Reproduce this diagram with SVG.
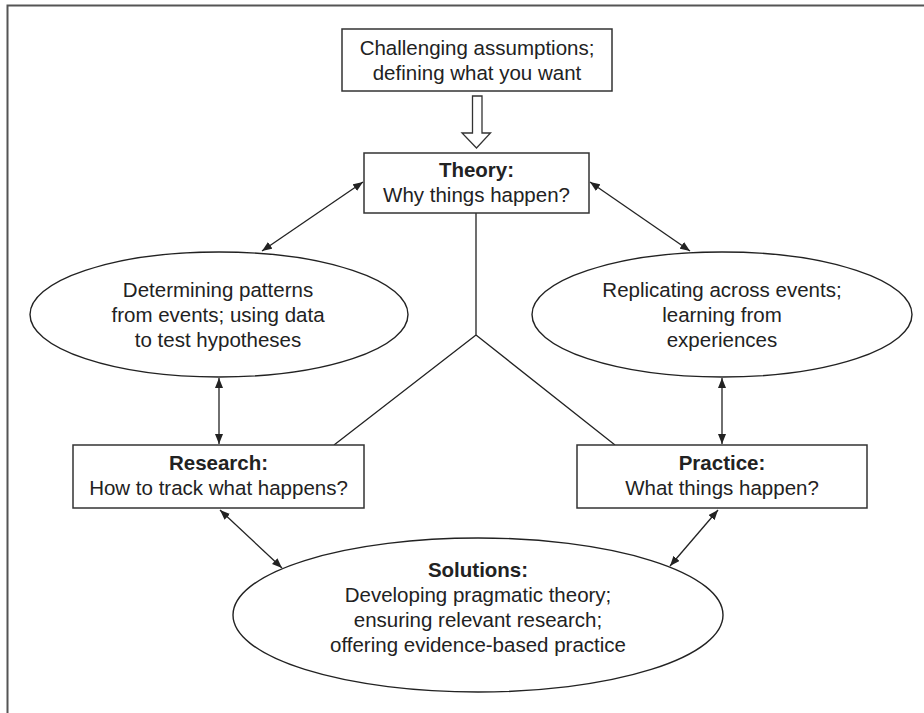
<svg xmlns="http://www.w3.org/2000/svg" width="924" height="713" viewBox="0 0 924 713">
  <style>
    .box { fill: #fff; stroke: #333; stroke-width: 1.5; }
    .ell { fill: #fff; stroke: #222; stroke-width: 1.4; }
    .txt { font-family: "Liberation Sans", Arial, sans-serif; font-size: 20.5px; fill: #222; text-anchor: middle; }
    .b { font-weight: bold; }
    .link { fill: none; stroke: #222; stroke-width: 1.3; }
    .arr { marker-start: url(#head); marker-end: url(#head); }
    .frame { fill: none; stroke: #555; stroke-width: 2; }
  </style>
  <defs>
    <marker id="head" viewBox="0 0 10 8" refX="10" refY="4" markerWidth="10" markerHeight="8" markerUnits="userSpaceOnUse" orient="auto-start-reverse">
      <path d="M0,0 L10,4 L0,8 Z" fill="#222"/>
    </marker>
  </defs>

  <rect width="924" height="713" fill="#fff"/>
  <!-- outer frame: top and left edges -->
  <path class="frame" d="M7.5,713 V5.5 H924"/>

  <g id="connectors">
    <!-- hollow arrow from the assumptions box into Theory -->
    <polygon points="472.5,96 482,96 482,133 490.5,133 476.5,148 462,133 472.5,133" fill="#fff" stroke="#333" stroke-width="1.3"/>
    <!-- Y-shaped link joining Theory, Research and Practice -->
    <path class="link" d="M476,213 V335 M476,335 L334,445 M476,335 L615,445"/>
    <!-- two-way arrows -->
    <line class="link arr" x1="363" y1="182" x2="262" y2="251"/>
    <line class="link arr" x1="590" y1="182" x2="690" y2="251"/>
    <line class="link arr" x1="219" y1="378" x2="219" y2="444"/>
    <line class="link arr" x1="722" y1="378" x2="722" y2="444"/>
    <line class="link arr" x1="220" y1="510" x2="282" y2="568"/>
    <line class="link arr" x1="718" y1="510" x2="670" y2="566"/>
  </g>

  <g id="assumptions">
    <rect class="box" x="342" y="29" width="270" height="62"/>
    <text class="txt" x="477" y="55">Challenging assumptions;</text>
    <text class="txt" x="477" y="80">defining what you want</text>
  </g>

  <g id="theory">
    <rect class="box" x="364" y="153" width="225" height="60"/>
    <text class="txt b" x="476.5" y="177">Theory:</text>
    <text class="txt" x="476.5" y="202">Why things happen?</text>
  </g>

  <g id="patterns">
    <ellipse class="ell" cx="219" cy="314.5" rx="189" ry="62.5"/>
    <text class="txt" x="218" y="297">Determining patterns</text>
    <text class="txt" x="218" y="322">from events; using data</text>
    <text class="txt" x="218" y="347">to test hypotheses</text>
  </g>

  <g id="replicating">
    <ellipse class="ell" cx="722" cy="314.5" rx="190" ry="62.5"/>
    <text class="txt" x="722" y="297">Replicating across events;</text>
    <text class="txt" x="722" y="322">learning from</text>
    <text class="txt" x="722" y="347">experiences</text>
  </g>

  <g id="research">
    <rect class="box" x="73" y="445" width="291" height="63"/>
    <text class="txt b" x="218.5" y="470">Research:</text>
    <text class="txt" x="218.5" y="495">How to track what happens?</text>
  </g>

  <g id="practice">
    <rect class="box" x="577" y="445" width="290" height="63"/>
    <text class="txt b" x="722" y="470">Practice:</text>
    <text class="txt" x="722" y="495">What things happen?</text>
  </g>

  <g id="solutions">
    <ellipse class="ell" cx="478" cy="615" rx="245" ry="77"/>
    <text class="txt b" x="478" y="577">Solutions:</text>
    <text class="txt" x="478" y="602">Developing pragmatic theory;</text>
    <text class="txt" x="478" y="627">ensuring relevant research;</text>
    <text class="txt" x="478" y="652">offering evidence-based practice</text>
  </g>
</svg>
